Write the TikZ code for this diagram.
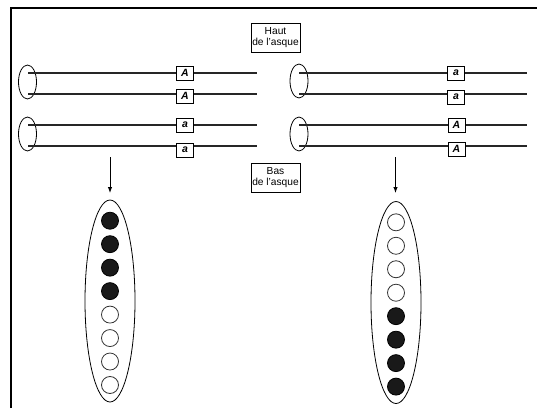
\documentclass[tikz,border=0pt]{standalone}
\usepackage{fontspec}
\setmainfont{Liberation Sans}
\usetikzlibrary{shapes.geometric,arrows.meta}
\tikzset{
  frameline/.style={line width=2.4pt,black},
  chrom/.style={line width=1.3pt,black!85},
  cent/.style={draw,ellipse,line width=0.8pt,minimum width=18pt,minimum height=34pt,inner sep=0pt},
  allele/.style={draw,fill=white,line width=0.8pt,minimum width=17pt,minimum height=14pt,inner sep=0pt,font=\fontsize{10.5}{11}\selectfont\itshape\bfseries},
  label/.style={draw,fill=white,line width=0.8pt,minimum width=49pt,minimum height=29pt,inner sep=1pt,align=center,font=\fontsize{10.2}{11}\selectfont},
  arr/.style={line width=1pt,-{Latex[length=6pt,width=4.5pt]}},
  pod/.style={draw,ellipse,line width=0.8pt,minimum width=50pt,minimum height=202pt,inner sep=0pt},
  full/.style={circle,draw=black,fill=black!90,line width=0.8pt,minimum size=17pt,inner sep=0pt},
  empty/.style={circle,draw=black!80,fill=white,line width=0.8pt,minimum size=17pt,inner sep=0pt}
}
\begin{document}
\begin{tikzpicture}[x=1pt,y=-1pt]
\useasboundingbox (0,0) rectangle (537,408);
% frame
\coordinate (fl) at (11,408);
\coordinate (fc) at (11,8);
\coordinate (fr) at (537,8);
\draw[frameline] (fl) -- (fc) -- (fr);
% labels
\node[label] (haut) at (275.5,37.5) {Haut\\de l'asque};
\node[label] (bas) at (275.5,177.5) {Bas\\de l'asque};
% left chromosomes
\node[cent] (cL1) at (27.5,82) {};
\node[cent] (cL2) at (27.5,134) {};
\coordinate (l1s) at (28,73); \coordinate (l1e) at (257,73);
\coordinate (l2s) at (28,94); \coordinate (l2e) at (257,94);
\coordinate (l3s) at (28,125); \coordinate (l3e) at (257,125);
\coordinate (l4s) at (28,146); \coordinate (l4e) at (257,146);
\draw[chrom] (l1s) -- (l1e);
\draw[chrom] (l2s) -- (l2e);
\draw[chrom] (l3s) -- (l3e);
\draw[chrom] (l4s) -- (l4e);
\node[allele] (aL1) at (185,73) {A};
\node[allele] (aL2) at (185,96) {A};
\node[allele] (aL3) at (185,125) {a};
\node[allele] (aL4) at (185,150) {a};
% right chromosomes
\node[cent] (cR1) at (299,81) {};
\node[cent] (cR2) at (299,134) {};
\coordinate (r1s) at (299,73); \coordinate (r1e) at (527,73);
\coordinate (r2s) at (299,94); \coordinate (r2e) at (527,94);
\coordinate (r3s) at (299,125); \coordinate (r3e) at (527,125);
\coordinate (r4s) at (299,146); \coordinate (r4e) at (527,146);
\draw[chrom] (r1s) -- (r1e);
\draw[chrom] (r2s) -- (r2e);
\draw[chrom] (r3s) -- (r3e);
\draw[chrom] (r4s) -- (r4e);
\node[allele] (aR1) at (456,73) {a};
\node[allele] (aR2) at (456,97) {a};
\node[allele] (aR3) at (456.5,125) {A};
\node[allele] (aR4) at (456.5,149) {A};
% arrows
\coordinate (arLs) at (110,157);
\coordinate (arRs) at (395.5,157);
\node[pod] (podL) at (110,301) {};
\node[pod] (podR) at (396,302.5) {};
\coordinate (arLe) at (110,193);
\coordinate (arRe) at (395.5,193);
\draw[arr] (arLs) -- (arLe);
\draw[arr] (arRs) -- (arRe);
% spores left
\foreach \i/\s in {0/full,1/full,2/full,3/full,4/empty,5/empty,6/empty,7/empty}{
  \node[\s] (sL\i) at (110,{220.7+23.47*\i}) {};
}
% spores right
\foreach \i/\s in {0/empty,1/empty,2/empty,3/empty,4/full,5/full,6/full,7/full}{
  \node[\s] (sR\i) at (396,{222.3+23.47*\i}) {};
}
\end{tikzpicture}
\end{document}
